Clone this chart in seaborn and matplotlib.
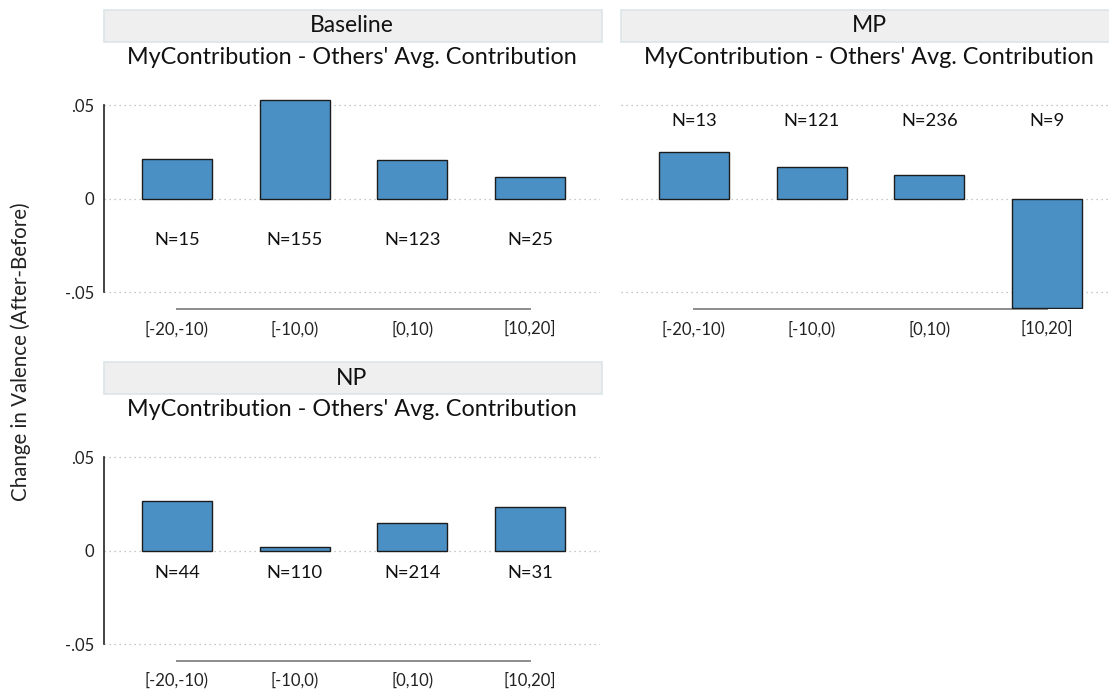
import pandas as pd
import matplotlib.pyplot as plt
import seaborn as sns
from matplotlib.patches import Rectangle

# Data
bins = ['[-20,-10)', '[-10,0)', '[0,10)', '[10,20]']
panels = ['Baseline', 'MP', 'NP']
baseline_vals = [0.0212, 0.0525, 0.0205, 0.0116]
mp_vals = [0.0251, 0.0171, 0.0126, -0.0585]
np_vals = [0.0266, 0.0018, 0.0147, 0.0232]
baseline_n = [15, 155, 123, 25]
mp_n = [13, 121, 236, 9]
np_n = [44, 110, 214, 31]

values = {'Baseline': baseline_vals, 'MP': mp_vals, 'NP': np_vals}
counts = {'Baseline': baseline_n, 'MP': mp_n, 'NP': np_n}
label_y = {'Baseline': -0.022, 'MP': 0.0416, 'NP': -0.0118}

sns.set_style('white')
plt.rcParams['font.family'] = ['Lato', 'DejaVu Sans']

bar_color = '#4a90c4'
fig = plt.figure(figsize=(11.09, 6.94), dpi=100)

# axes rectangles in figure fractions
W, H = 1109, 694
rects = {
    'Baseline': (104 / W, 1 - 309.3 / H, 496 / W, 215.5 / H),
    'MP': (621 / W, 1 - 309.3 / H, 496 / W, 215.5 / H),
    'NP': (104 / W, 1 - 660.9 / H, 496 / W, 214.8 / H),
}

for name in panels:
    ax = fig.add_axes(rects[name])
    df = pd.DataFrame({'bin': bins, 'value': values[name]})
    sns.barplot(data=df, x='bin', y='value', color=bar_color, saturation=1,
                width=0.593, edgecolor='#1c1c1c', linewidth=1.0, ax=ax, zorder=3)
    ax.set_xlim(-0.619, 3.593)
    ax.set_ylim(-0.059, 0.056)
    ax.set_yticks([-0.05, 0, 0.05])
    ax.set_yticklabels(['-.05', '0', '.05'])
    ax.yaxis.grid(True, linestyle=(0, (1, 3)), color='#b5b5b5', linewidth=0.9)
    ax.set_axisbelow(True)
    ax.set_xlabel('')
    ax.set_ylabel('')

    for s in ['top', 'right']:
        ax.spines[s].set_visible(False)
    ax.spines['bottom'].set_bounds(0, 3)
    ax.spines['bottom'].set_color('#8c8c8c')
    ax.spines['bottom'].set_linewidth(1.4)
    ax.tick_params(axis='x', length=0, pad=8, labelsize=12, colors='#222222')

    if name == 'MP':
        ax.spines['left'].set_visible(False)
        ax.tick_params(axis='y', length=0, labelleft=False)
    else:
        ax.spines['left'].set_bounds(-0.05, 0.05)
        ax.spines['left'].set_color('#222222')
        ax.spines['left'].set_linewidth(1.2)
        ax.tick_params(axis='y', length=5, width=1.2, color='#8c8c8c',
                       labelsize=12, pad=2, labelcolor='#222222')

    # N annotations
    for i, n in enumerate(counts[name]):
        ax.text(i, label_y[name], f'N={n}', ha='center', va='center',
                fontsize=13.2, color='#111111')

    # strip header and subtitle
    ax.add_patch(Rectangle((0, 1.242), 1.004, 0.148, transform=ax.transAxes,
                           facecolor='#efefef', edgecolor='#dbe5ea',
                           linewidth=1.2, clip_on=False))
    ax.text(0.5, 1.316, name, transform=ax.transAxes, ha='center', va='center',
            fontsize=16.5, color='#111111')
    ax.text(0.5, 1.17, "MyContribution - Others' Avg. Contribution",
            transform=ax.transAxes, ha='center', va='center', fontsize=16.8,
            color='#111111')

fig.text(21 / W, 1 - 352 / H, 'Change in Valence (After-Before)', rotation=90,
         ha='center', va='center', fontsize=14.8, color='#222222')

plt.savefig('out.png', dpi=100)
